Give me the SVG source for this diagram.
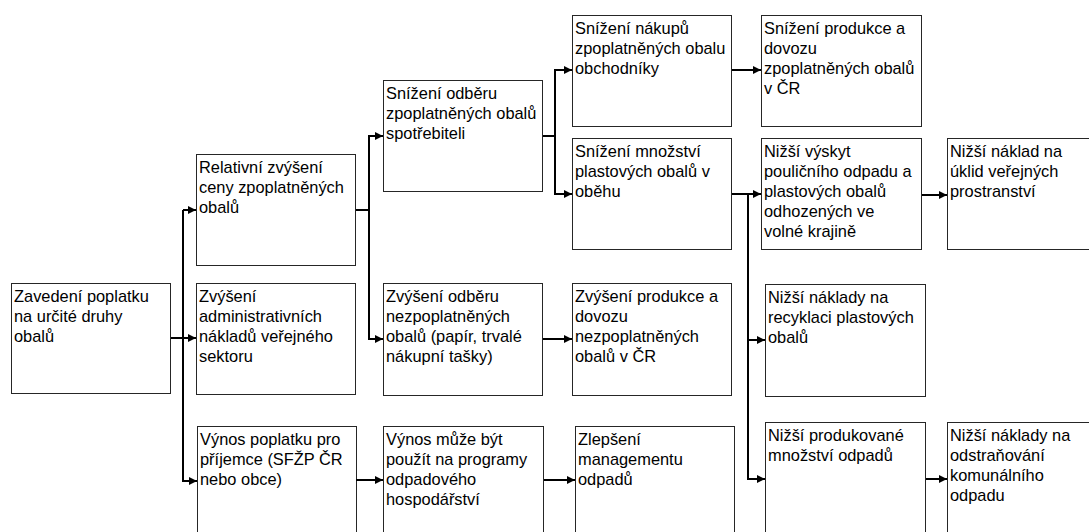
<svg xmlns="http://www.w3.org/2000/svg" width="1089" height="532" viewBox="0 0 1089 532">
<defs>
<marker id="ah" markerUnits="userSpaceOnUse" markerWidth="10" markerHeight="10" viewBox="0 0 10 10" refX="9" refY="5" orient="auto">
<path d="M1,1 L9,5 L1,9 Z" fill="#000"/>
</marker>
<style>
.box{fill:#fff;stroke:#262626;stroke-width:1}
.t{font-family:"Liberation Sans",Arial,sans-serif;font-size:16.4px;fill:#000}
.c{fill:none;stroke:#000;stroke-width:2}
.a{fill:none;stroke:#000;stroke-width:2;marker-end:url(#ah)}
</style>
</defs>
<rect width="1089" height="532" fill="#fff"/>

<g id="n1"><rect class="box" x="11.5" y="283.5" width="159" height="110"/>
<text class="t" x="14" y="302">Zavedení poplatku<tspan x="14" dy="20">na určité druhy</tspan><tspan x="14" dy="20">obalů</tspan></text></g>

<g id="n2"><rect class="box" x="196.5" y="154.5" width="159" height="111"/>
<text class="t" x="199" y="173">Relativní zvýšení<tspan x="199" dy="20">ceny zpoplatněných</tspan><tspan x="199" dy="20">obalů</tspan></text></g>

<g id="n3"><rect class="box" x="196.5" y="283.5" width="159" height="111"/>
<text class="t" x="199" y="302">Zvýšení<tspan x="199" dy="20">administrativních</tspan><tspan x="199" dy="20">nákladů veřejného</tspan><tspan x="199" dy="20">sektoru</tspan></text></g>

<g id="n4"><rect class="box" x="197.5" y="426.5" width="159" height="111"/>
<text class="t" x="200" y="445">Výnos poplatku pro<tspan x="200" dy="20">příjemce (SFŽP ČR</tspan><tspan x="200" dy="20">nebo obce)</tspan></text></g>

<g id="n5"><rect class="box" x="383.5" y="80.5" width="159" height="111"/>
<text class="t" x="386" y="99">Snížení odběru<tspan x="386" dy="20">zpoplatněných obalů</tspan><tspan x="386" dy="20">spotřebiteli</tspan></text></g>

<g id="n6"><rect class="box" x="383.5" y="283.5" width="159" height="112"/>
<text class="t" x="386" y="302">Zvýšení odběru<tspan x="386" dy="20">nezpoplatněných</tspan><tspan x="386" dy="20">obalů (papír, trvalé</tspan><tspan x="386" dy="20">nákupní tašky)</tspan></text></g>

<g id="n7"><rect class="box" x="383.5" y="426.5" width="160" height="111"/>
<text class="t" x="386" y="445">Výnos může být<tspan x="386" dy="20">použít na programy</tspan><tspan x="386" dy="20">odpadového</tspan><tspan x="386" dy="20">hospodářství</tspan></text></g>

<g id="n8"><rect class="box" x="572.5" y="15.5" width="159" height="111"/>
<text class="t" x="575" y="34">Snížení nákupů<tspan x="575" dy="20">zpoplatněných obalu</tspan><tspan x="575" dy="20">obchodníky</tspan></text></g>

<g id="n9"><rect class="box" x="572.5" y="138.5" width="159" height="111"/>
<text class="t" x="575" y="157">Snížení množství<tspan x="575" dy="20">plastových obalů v</tspan><tspan x="575" dy="20">oběhu</tspan></text></g>

<g id="n10"><rect class="box" x="572.5" y="283.5" width="159" height="112"/>
<text class="t" x="575" y="302">Zvýšení produkce a<tspan x="575" dy="20">dovozu</tspan><tspan x="575" dy="20">nezpoplatněných</tspan><tspan x="575" dy="20">obalů v ČR</tspan></text></g>

<g id="n11"><rect class="box" x="575.5" y="426.5" width="159" height="111"/>
<text class="t" x="578" y="445">Zlepšení<tspan x="578" dy="20">managementu</tspan><tspan x="578" dy="20">odpadů</tspan></text></g>

<g id="n12"><rect class="box" x="761.5" y="15.5" width="160" height="111"/>
<text class="t" x="764" y="34">Snížení produkce a<tspan x="764" dy="20">dovozu</tspan><tspan x="764" dy="20">zpoplatněných obalů</tspan><tspan x="764" dy="20">v ČR</tspan></text></g>

<g id="n13"><rect class="box" x="761.5" y="138.5" width="160" height="111"/>
<text class="t" x="764" y="157">Nižší výskyt<tspan x="764" dy="20">pouličního odpadu a</tspan><tspan x="764" dy="20">plastových obalů</tspan><tspan x="764" dy="20">odhozených ve</tspan><tspan x="764" dy="20">volné krajině</tspan></text></g>

<g id="n14"><rect class="box" x="947.5" y="138.5" width="160" height="111"/>
<text class="t" x="950" y="157">Nižší náklad na<tspan x="950" dy="20">úklid veřejných</tspan><tspan x="950" dy="20">prostranství</tspan></text></g>

<g id="n15"><rect class="box" x="765.5" y="284.5" width="160" height="112"/>
<text class="t" x="768" y="303">Nižší náklady na<tspan x="768" dy="20">recyklaci plastových</tspan><tspan x="768" dy="20">obalů</tspan></text></g>

<g id="n16"><rect class="box" x="765.5" y="422.5" width="160" height="115"/>
<text class="t" x="768" y="441">Nižší produkované<tspan x="768" dy="20">množství odpadů</tspan></text></g>

<g id="n17"><rect class="box" x="947.5" y="422.5" width="160" height="115"/>
<text class="t" x="950" y="441">Nižší náklady na<tspan x="950" dy="20">odstraňování</tspan><tspan x="950" dy="20">komunálního</tspan><tspan x="950" dy="20">odpadu</tspan></text></g>

<g id="connectors">
<path class="c" d="M183,210 V481"/>
<path class="a" d="M183,210 H196"/>
<path class="a" d="M171,338 H196"/>
<path class="a" d="M182,481 H197"/>

<path class="c" d="M356,210 H369"/>
<path class="c" d="M369,136 V339"/>
<path class="a" d="M368,136 H383"/>
<path class="a" d="M368,339 H383"/>

<path class="c" d="M543,136 H555"/>
<path class="c" d="M555,70 V194"/>
<path class="a" d="M554,70 H572"/>
<path class="a" d="M554,194 H572"/>

<path class="a" d="M732,70 H761"/>
<path class="a" d="M732,194 H761"/>
<path class="c" d="M748,194 V479"/>
<path class="a" d="M747,340 H765"/>
<path class="a" d="M747,479 H765"/>

<path class="a" d="M922,195 H947"/>
<path class="a" d="M543,339 H572"/>
<path class="a" d="M356,480 H383"/>
<path class="a" d="M544,480 H575"/>
<path class="a" d="M926,479 H947"/>
</g>
</svg>
